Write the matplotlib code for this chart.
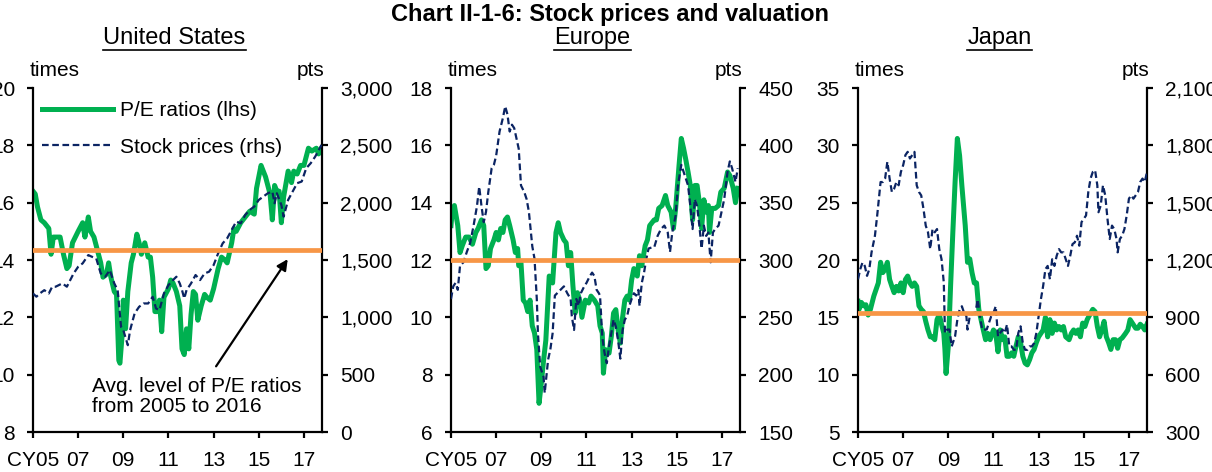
import matplotlib
matplotlib.use("Agg")
import matplotlib.pyplot as plt
from matplotlib.lines import Line2D

plt.rcParams['font.family'] = ['Liberation Sans', 'DejaVu Sans']

GREEN = '#00B050'
NAVY = '#0B2463'
ORANGE = '#F79646'

# ---- United States ----
us_pe_t = [2005.0, 2005.1, 2005.2, 2005.35, 2005.5, 2005.7, 2005.8, 2005.9, 2006.0, 2006.2,
           2006.35, 2006.5, 2006.6, 2006.75, 2007.0, 2007.2, 2007.3, 2007.45, 2007.55, 2007.7,
           2007.8, 2008.0, 2008.1, 2008.25, 2008.35, 2008.45, 2008.6, 2008.7, 2008.8, 2008.85,
           2008.95, 2009.0, 2009.1, 2009.2, 2009.35, 2009.45, 2009.6, 2009.7, 2009.8, 2009.95,
           2010.1, 2010.2, 2010.3, 2010.4, 2010.5, 2010.6, 2010.7, 2010.8, 2011.0, 2011.1,
           2011.2, 2011.35, 2011.5, 2011.6, 2011.7, 2011.8, 2011.9, 2012.0, 2012.1, 2012.2,
           2012.3, 2012.45, 2012.6, 2012.7, 2012.85, 2013.0, 2013.2, 2013.35, 2013.5, 2013.6,
           2013.8, 2013.9, 2014.0, 2014.2, 2014.4, 2014.6, 2014.8, 2014.9, 2015.1, 2015.2,
           2015.3, 2015.4, 2015.5, 2015.6, 2015.7, 2015.8, 2015.9, 2016.0, 2016.1, 2016.3,
           2016.45, 2016.55, 2016.7, 2016.85, 2017.0, 2017.2, 2017.35, 2017.55, 2017.65, 2017.78]
us_pe = [16.4, 16.3, 15.85, 15.4, 15.3, 15.1, 14.2, 14.8, 14.8, 14.8,
         14.2, 13.7, 13.8, 14.6, 15.0, 15.3, 14.8, 15.5, 15.0, 14.8,
         14.5, 13.9, 13.4, 13.5, 13.9, 13.4, 12.9, 12.8, 10.5, 10.4,
         11.4, 12.6, 11.6, 12.9, 13.9, 14.2, 14.9, 14.6, 14.2, 14.6,
         14.1, 14.1, 13.4, 12.2, 12.2, 12.6, 11.5, 12.7, 13.0, 13.3,
         13.2, 12.9, 12.4, 10.9, 10.7, 11.6, 10.9, 12.1, 12.9, 12.8,
         11.9, 12.4, 12.8, 12.7, 12.6, 13.0, 13.7, 14.1, 14.0, 13.9,
         14.6, 15.1, 15.0, 15.3, 15.5, 15.7, 15.6, 16.5, 17.3, 17.1,
         16.9, 16.6, 16.3, 15.4, 16.6, 16.4, 16.4, 15.3, 16.2, 17.1,
         16.7, 17.1, 17.0, 17.3, 17.3, 17.9, 17.8, 17.9, 17.7, 17.9]
us_px_t = [2005.0, 2005.15, 2005.3, 2005.5, 2005.7, 2005.85, 2006.0, 2006.3, 2006.5, 2006.8,
           2007.0, 2007.2, 2007.45, 2007.6, 2007.8, 2008.0, 2008.2, 2008.4, 2008.6, 2008.75,
           2008.9, 2009.0, 2009.2, 2009.3, 2009.5, 2009.7, 2009.9, 2010.1, 2010.3, 2010.45,
           2010.6, 2010.8, 2011.0, 2011.2, 2011.35, 2011.5, 2011.6, 2011.7, 2011.8, 2012.0,
           2012.2, 2012.4, 2012.6, 2012.8, 2013.0, 2013.2, 2013.4, 2013.6, 2013.8, 2014.0,
           2014.2, 2014.4, 2014.6, 2014.8, 2015.0, 2015.2, 2015.4, 2015.6, 2015.7, 2015.8,
           2016.0, 2016.1, 2016.3, 2016.5, 2016.7, 2016.9, 2017.1, 2017.3, 2017.5, 2017.7, 2017.78]
us_px = [1208, 1180, 1208, 1237, 1208, 1267, 1267, 1296, 1267, 1383,
         1441, 1471, 1543, 1529, 1514, 1383, 1354, 1412, 1296, 1237,
         917, 888, 757, 888, 1034, 1092, 1121, 1121, 1179, 1077,
         1063, 1209, 1281, 1325, 1354, 1296, 1237, 1165, 1237, 1296,
         1369, 1325, 1383, 1398, 1456, 1558, 1645, 1689, 1762, 1835,
         1820, 1893, 1937, 1966, 2024, 2053, 2082, 2097, 1995, 2082,
         1980, 1878, 2024, 2097, 2170, 2184, 2300, 2344, 2402, 2475, 2504]
us_avg = 14.35

# ---- Europe ----
eu_pe_t = [2005.0, 2005.05, 2005.15, 2005.3, 2005.4, 2005.5, 2005.65, 2005.8, 2005.95, 2006.1,
           2006.2, 2006.35, 2006.45, 2006.55, 2006.65, 2006.75, 2006.9, 2007.0, 2007.1, 2007.2,
           2007.3, 2007.4, 2007.5, 2007.6, 2007.75, 2007.85, 2007.95, 2008.0, 2008.1, 2008.2,
           2008.3, 2008.4, 2008.5, 2008.6, 2008.7, 2008.8, 2008.9, 2009.0, 2009.1, 2009.2,
           2009.35, 2009.5, 2009.65, 2009.75, 2009.85, 2010.0, 2010.1, 2010.2, 2010.3, 2010.4,
           2010.5, 2010.6, 2010.7, 2010.8, 2010.95, 2011.1, 2011.2, 2011.35, 2011.5, 2011.6,
           2011.7, 2011.75, 2011.85, 2012.0, 2012.1, 2012.2, 2012.3, 2012.4, 2012.5, 2012.6,
           2012.7, 2012.8, 2012.9, 2013.0, 2013.1, 2013.25, 2013.35, 2013.45, 2013.6, 2013.7,
           2013.8, 2014.0, 2014.1, 2014.2, 2014.35, 2014.5, 2014.6, 2014.75, 2014.85, 2014.95,
           2015.1, 2015.2, 2015.3, 2015.4, 2015.5, 2015.6, 2015.7, 2015.8, 2015.9, 2016.0,
           2016.1, 2016.2, 2016.3, 2016.4, 2016.45, 2016.55, 2016.7, 2016.85, 2016.95, 2017.1,
           2017.25, 2017.35, 2017.5, 2017.6, 2017.7]
eu_pe = [13.2, 13.67, 13.9, 13.2, 12.26, 12.5, 12.8, 12.8, 12.55, 12.96,
         13.1, 13.4, 13.2, 11.7, 11.8, 12.4, 12.7, 12.96, 12.7, 13.1,
         12.96, 13.4, 13.5, 13.2, 12.7, 12.26, 12.4, 11.8, 11.9, 10.6,
         10.5, 10.2, 10.6, 9.7, 9.45, 8.87, 7.0, 7.7, 8.5, 9.2,
         11.44, 11.2, 12.96, 13.3, 12.96, 12.7, 12.6, 11.8, 12.26, 11.1,
         10.15, 10.86, 10.6, 10.0, 10.6, 10.5, 10.74, 10.6, 10.4, 9.7,
         9.45, 8.05, 8.87, 8.75, 9.33, 10.15, 10.27, 9.57, 9.1, 10.0,
         10.6, 10.74, 10.6, 11.3, 11.7, 11.44, 12.15, 11.8, 12.5, 12.7,
         13.2, 13.4, 13.4, 13.8, 13.9, 14.25, 13.9, 13.67, 13.1, 13.8,
         15.3, 16.24, 15.9, 15.5, 15.07, 14.6, 13.4, 14.6, 14.6, 14.0,
         13.1, 14.1, 13.67, 13.9, 12.96, 13.8, 13.8, 13.9, 14.37, 14.5,
         15.07, 14.95, 14.5, 14.0, 14.5]
eu_px_t = [2005.0, 2005.1, 2005.2, 2005.3, 2005.4, 2005.55, 2005.7, 2005.85, 2006.0, 2006.15,
           2006.25, 2006.35, 2006.45, 2006.55, 2006.65, 2006.8, 2006.9, 2007.0, 2007.15, 2007.3,
           2007.4, 2007.5, 2007.6, 2007.7, 2007.8, 2007.9, 2008.0, 2008.1, 2008.25, 2008.35,
           2008.45, 2008.6, 2008.7, 2008.8, 2008.85, 2008.95, 2009.1, 2009.15, 2009.3, 2009.4,
           2009.5, 2009.6, 2009.7, 2009.85, 2010.0, 2010.15, 2010.3, 2010.35, 2010.45, 2010.55,
           2010.65, 2010.75, 2010.9, 2011.0, 2011.15, 2011.25, 2011.35, 2011.45, 2011.55, 2011.6,
           2011.7, 2011.8, 2011.9, 2012.0, 2012.1, 2012.2, 2012.3, 2012.4, 2012.5, 2012.6,
           2012.7, 2012.8, 2012.9, 2013.0, 2013.1, 2013.2, 2013.3, 2013.35, 2013.45, 2013.55,
           2013.65, 2013.75, 2013.9, 2014.0, 2014.15, 2014.3, 2014.45, 2014.6, 2014.7, 2014.8,
           2014.95, 2015.05, 2015.2, 2015.3, 2015.4, 2015.5, 2015.6, 2015.7, 2015.8, 2015.9,
           2016.0, 2016.1, 2016.2, 2016.3, 2016.4, 2016.5, 2016.6, 2016.7, 2016.85, 2016.95,
           2017.1, 2017.25, 2017.35, 2017.45, 2017.6, 2017.7]
eu_px = [266, 277, 280, 274, 295, 298, 307, 315, 330, 347,
         364, 347, 333, 342, 359, 380, 383, 391, 412, 424,
         434, 427, 412, 418, 415, 406, 397, 365, 359, 353,
         342, 312, 301, 266, 236, 207, 198, 184, 213, 222,
         236, 269, 271, 274, 277, 271, 266, 251, 239, 266,
         260, 271, 277, 280, 286, 289, 286, 274, 271, 269,
         233, 219, 210, 225, 236, 248, 242, 230, 214, 239,
         248, 251, 260, 266, 271, 269, 274, 260, 280, 289,
         301, 310, 311, 311, 321, 327, 330, 324, 307, 324,
         339, 365, 383, 377, 371, 365, 347, 327, 353, 347,
         330, 310, 330, 321, 324, 298, 324, 327, 330, 339,
         353, 377, 386, 380, 368, 380]
eu_avg = 12.0

# ---- Japan ----
jp_pe_t = [2005.0, 2005.05, 2005.15, 2005.25, 2005.35, 2005.45, 2005.55, 2005.7, 2005.9, 2006.0,
           2006.1, 2006.2, 2006.3, 2006.4, 2006.5, 2006.6, 2006.7, 2006.8, 2006.9, 2007.0,
           2007.1, 2007.2, 2007.3, 2007.4, 2007.5, 2007.6, 2007.7, 2007.8, 2007.9, 2008.0,
           2008.1, 2008.2, 2008.3, 2008.4, 2008.5, 2008.6, 2008.7, 2008.8, 2008.85, 2008.9,
           2009.0, 2009.1, 2009.2, 2009.3, 2009.4, 2009.5, 2009.6, 2009.75, 2009.85, 2009.95,
           2010.05, 2010.15, 2010.25, 2010.35, 2010.45, 2010.55, 2010.65, 2010.75, 2010.85, 2011.0,
           2011.1, 2011.2, 2011.3, 2011.4, 2011.5, 2011.6, 2011.7, 2011.8, 2011.9, 2012.0,
           2012.1, 2012.2, 2012.3, 2012.4, 2012.5, 2012.6, 2012.7, 2012.8, 2012.9, 2013.0,
           2013.1, 2013.2, 2013.3, 2013.4, 2013.5, 2013.6, 2013.7, 2013.8, 2013.9, 2014.0,
           2014.1, 2014.2, 2014.35, 2014.45, 2014.55, 2014.65, 2014.75, 2014.85, 2014.95, 2015.05,
           2015.15, 2015.3, 2015.4, 2015.5, 2015.6, 2015.7, 2015.8, 2015.9, 2016.0, 2016.1,
           2016.2, 2016.3, 2016.4, 2016.5, 2016.6, 2016.7, 2016.85, 2016.95, 2017.05, 2017.15,
           2017.3, 2017.4, 2017.5, 2017.6, 2017.7, 2017.8]
jp_pe = [16.4, 15.7, 16.3, 16.0, 16.1, 15.2, 15.7, 16.85, 18.0, 19.8,
         18.9, 19.2, 19.8, 18.3, 17.7, 17.15, 17.7, 17.3, 18.0, 17.15,
         18.3, 18.6, 18.0, 17.7, 18.0, 17.7, 16.0, 15.7, 15.5, 14.65,
         13.9, 13.3, 13.3, 13.05, 14.8, 15.25, 14.4, 13.6, 12.2, 10.1,
         12.5, 17.7, 22.4, 26.8, 30.6, 29.1, 26.5, 23.0, 19.8, 20.1,
         18.9, 18.0, 18.0, 15.7, 14.8, 13.9, 13.05, 13.6, 13.05, 13.9,
         13.6, 12.0, 13.9, 13.05, 13.3, 11.6, 11.6, 11.9, 11.6, 12.5,
         13.3, 12.8, 11.6, 11.0, 10.85, 11.3, 11.9, 12.2, 12.8, 13.3,
         13.6, 13.9, 15.0, 13.3, 14.8, 13.6, 14.5, 13.9, 14.2, 13.9,
         14.2, 13.3, 13.05, 13.6, 13.9, 13.6, 13.9, 13.3, 14.5, 14.2,
         14.8, 15.35, 15.7, 15.5, 14.2, 13.3, 13.9, 14.65, 13.3, 12.8,
         12.2, 13.05, 13.05, 12.3, 13.05, 13.2, 13.6, 13.9, 14.8, 14.5,
         14.05, 14.05, 14.4, 14.2, 13.9, 14.4]
jp_px_t = [2005.0, 2005.1, 2005.2, 2005.3, 2005.4, 2005.5, 2005.6, 2005.75, 2005.85, 2006.0,
           2006.1, 2006.2, 2006.3, 2006.4, 2006.5, 2006.6, 2006.7, 2006.8, 2006.9, 2007.0,
           2007.1, 2007.2, 2007.3, 2007.4, 2007.5, 2007.6, 2007.7, 2007.8, 2007.9, 2008.0,
           2008.1, 2008.2, 2008.3, 2008.4, 2008.5, 2008.6, 2008.7, 2008.8, 2008.85, 2008.95,
           2009.05, 2009.15, 2009.3, 2009.4, 2009.5, 2009.6, 2009.7, 2009.8, 2009.85, 2009.95,
           2010.1, 2010.2, 2010.3, 2010.4, 2010.5, 2010.6, 2010.7, 2010.8, 2010.9, 2011.0,
           2011.1, 2011.2, 2011.3, 2011.4, 2011.5, 2011.6, 2011.7, 2011.8, 2011.9, 2012.0,
           2012.1, 2012.2, 2012.3, 2012.4, 2012.5, 2012.6, 2012.7, 2012.8, 2012.9, 2013.0,
           2013.1, 2013.2, 2013.3, 2013.4, 2013.5, 2013.6, 2013.7, 2013.8, 2013.9, 2014.0,
           2014.1, 2014.2, 2014.3, 2014.4, 2014.5, 2014.6, 2014.7, 2014.8, 2014.9, 2015.0,
           2015.1, 2015.2, 2015.3, 2015.4, 2015.5, 2015.6, 2015.65, 2015.75, 2015.85, 2015.95,
           2016.05, 2016.15, 2016.25, 2016.35, 2016.45, 2016.5, 2016.6, 2016.7, 2016.8, 2016.9,
           2017.0, 2017.1, 2017.2, 2017.3, 2017.4, 2017.5, 2017.6, 2017.7, 2017.8]
jp_px = [1099, 1152, 1187, 1169, 1117, 1152, 1240, 1327, 1433, 1608,
         1608, 1626, 1714, 1626, 1556, 1573, 1608, 1591, 1661, 1696,
         1749, 1766, 1731, 1749, 1766, 1591, 1556, 1538, 1468, 1380,
         1345, 1257, 1362, 1345, 1362, 1257, 1204, 1082, 818, 836,
         836, 748, 801, 888, 941, 958, 923, 906, 836, 906,
         923, 923, 994, 906, 836, 836, 836, 871, 906, 923,
         958, 801, 818, 836, 818, 862, 748, 748, 730, 730,
         818, 853, 765, 730, 730, 748, 748, 765, 818, 906,
         994, 1064, 1152, 1169, 1099, 1204, 1169, 1222, 1257, 1240,
         1240, 1204, 1169, 1222, 1283, 1292, 1327, 1275, 1398, 1415,
         1433, 1556, 1626, 1661, 1670, 1591, 1450, 1485, 1591, 1538,
         1415, 1310, 1380, 1362, 1310, 1240, 1310, 1327, 1362, 1433,
         1521, 1538, 1521, 1538, 1556, 1608, 1626, 1608, 1661]
jp_avg = 15.4

year_ticks = [2005, 2007, 2009, 2011, 2013, 2015, 2017]
year_labels = ['CY05', '07', '09', '11', '13', '15', '17']

panels = [
    dict(name='United States', pe_t=us_pe_t, pe=us_pe, px_t=us_px_t, px=us_px, avg=us_avg,
         lhs=(8, 20, 2), rhs=(0, 3000, 500), left=33),
    dict(name='Europe', pe_t=eu_pe_t, pe=eu_pe, px_t=eu_px_t, px=eu_px, avg=eu_avg,
         lhs=(6, 18, 2), rhs=(150, 450, 50), left=451),
    dict(name='Japan', pe_t=jp_pe_t, pe=jp_pe, px_t=jp_px_t, px=jp_px, avg=jp_avg,
         lhs=(5, 35, 5), rhs=(300, 2100, 300), left=858),
]

W, H = 1212, 472
fig = plt.figure(figsize=(W / 100, H / 100), dpi=100)
FS = 15

subtitles = []
for i, p in enumerate(panels):
    ax = fig.add_axes([p['left'] / W, 40 / H, 289 / W, 344 / H])
    ax2 = ax.twinx()

    ax.plot(p['pe_t'], p['pe'], color=GREEN, lw=3.6, solid_joinstyle='round',
            label='P/E ratios (lhs)', zorder=2)
    ax2.plot(p['px_t'], p['px'], color=NAVY, lw=1.6, ls=(0, (3, 1.6)),
             label='Stock prices (rhs)', zorder=3)
    ax2.plot([2005.0, 2017.8], [p['avg'], p['avg']], color=ORANGE, lw=3.4,
             transform=ax.transData, zorder=4)

    lo, hi, st = p['lhs']
    ax.set_ylim(lo, hi)
    ax.set_yticks(range(lo, hi + 1, st))
    lo2, hi2, st2 = p['rhs']
    ax2.set_ylim(lo2, hi2)
    ax2.set_yticks(range(lo2, hi2 + 1, st2))
    ax2.set_yticklabels([f'{v:,}' for v in range(lo2, hi2 + 1, st2)])
    ax.set_xlim(2005.0, 2017.8)
    ax.set_xticks(year_ticks)
    ax.set_xticklabels(year_labels)

    for a in (ax, ax2):
        a.spines['top'].set_visible(False)
        for s in a.spines.values():
            s.set_linewidth(1.6)
        a.tick_params(axis='y', labelsize=FS, width=1.6, length=4, direction='out', pad=9)
    ax.tick_params(axis='x', labelsize=FS, width=1.6, length=4.5, direction='out', pad=9)
    ax.spines['right'].set_visible(False)
    ax2.spines['left'].set_visible(False)
    ax2.spines['bottom'].set_visible(False)

    ax.text(-0.01, 1.052, 'times', transform=ax.transAxes, fontsize=FS, ha='left', va='center')
    ax2.text(1.01, 1.052, 'pts', transform=ax.transAxes, fontsize=FS, ha='right', va='center')

    cx = (p['left'] + 289 / 2 - 3) / W
    subtitles.append(fig.text(cx, 1 - 38 / H, p['name'], fontsize=17, ha='center', va='center'))

    if i == 0:
        h1, l1 = ax.get_legend_handles_labels()
        h2, l2 = ax2.get_legend_handles_labels()
        ax2.legend(h1 + h2, l1 + l2, loc='upper left', bbox_to_anchor=(0.03, 0.962),
                   frameon=False, fontsize=FS, handlelength=3.4, handletextpad=0.35,
                   labelspacing=0.84, borderaxespad=0, borderpad=0)
        ax.annotate('', xy=(2016.35, 14.11), xytext=(2013.04, 10.21),
                    arrowprops=dict(arrowstyle='-|>', color='black', lw=1.6,
                                    mutation_scale=16), zorder=5)
        ax.text(2007.61, 9.24, 'Avg. level of P/E ratios\nfrom 2005 to 2016',
                fontsize=FS, ha='left', va='center', linespacing=1.05, zorder=5)

fig.text(0.503, 1 - 14 / H, 'Chart II-1-6: Stock prices and valuation',
         fontsize=17, fontweight='bold', ha='center', va='center')

# underline panel titles
fig.canvas.draw()
r = fig.canvas.get_renderer()
for t in subtitles:
    bb = t.get_window_extent(renderer=r)
    y = (bb.y0 - 1) / H
    fig.add_artist(Line2D([bb.x0 / W, bb.x1 / W], [y, y], color='black', lw=1.2))

fig.savefig('out.png', dpi=100)
